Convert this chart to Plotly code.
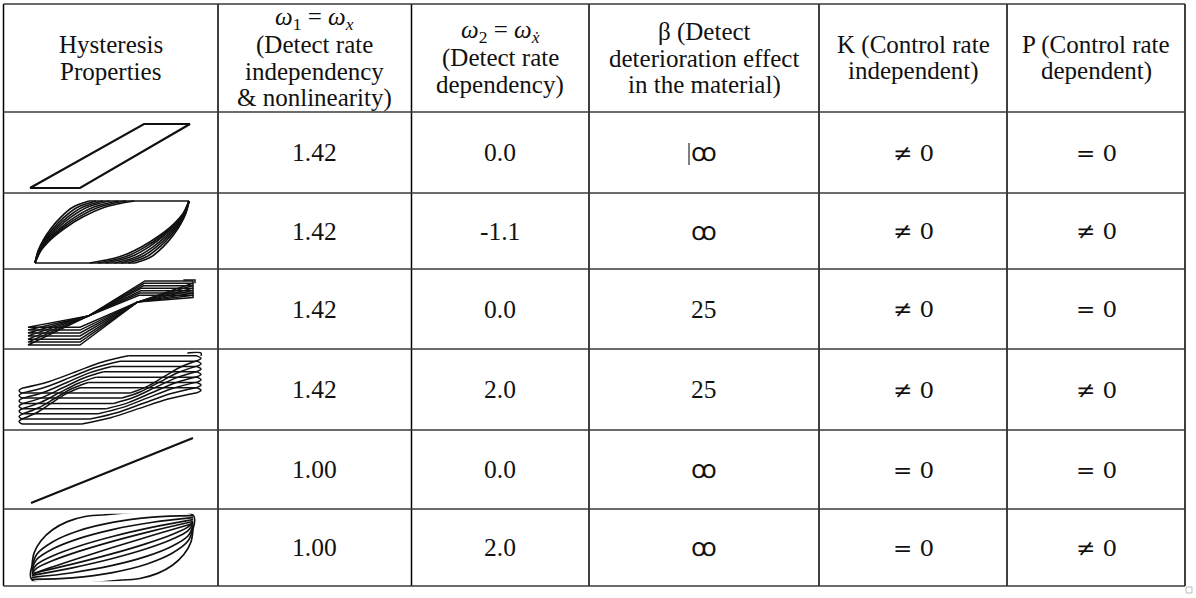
import plotly.graph_objects as go

# ---- table text ----
header_lines = [
    ["Hysteresis", "Properties"],
    ["<i>ω</i><sub>1</sub> = <i>ω</i><sub><i>x</i></sub>", "(Detect rate", "independency", "&amp; nonlinearity)"],
    ["<i>ω</i><sub>2</sub> = <i>ω</i><sub><i>x\u0307</i></sub>", "(Detect rate", "dependency)"],
    ["β (Detect", "deterioration effect", "in the material)"],
    ["K (Control rate", "independent)"],
    ["P (Control rate", "dependent)"],
]
omega1 = ["1.42", "1.42", "1.42", "1.42", "1.00", "1.00"]
omega2 = ["0.0", "-1.1", "0.0", "2.0", "0.0", "2.0"]
beta = ["ꝏ", "ꝏ", "25", "25", "ꝏ", "ꝏ"]
k_ctrl = ["≠ 0", "≠ 0", "≠ 0", "≠ 0", "= 0", "= 0"]
p_ctrl = ["= 0", "≠ 0", "= 0", "≠ 0", "= 0", "≠ 0"]

# ---- hysteresis sketches (normalised displacement / force, -1..1) ----
# row 1: bilinear loop
loop1_x = [-1, -0.375, 1, 0.425, -1]
loop1_y = [-1, -1, 1, 1, -1]

# row 2: loading branches reach the top edge at these displacements
loop2_top_end = [-0.30, -0.21, -0.12, -0.03, 0.08, 0.18, 0.29]
branch_u = [0, 0.06, 0.16, 0.3, 0.48, 0.7, 1.0]
branch_v = [0, 0.2, 0.38, 0.56, 0.74, 0.9, 1.0]

# row 3: pinched, drifting loops
loop3_top_y = [0.97, 0.90, 0.82, 0.75, 0.67, 0.60, 0.53]
loop3_top_x0 = [0.40, 0.39, 0.38, 0.36, 0.35, 0.34, 0.33]
loop3_bot_y = [-0.45, -0.54, -0.63, -0.72, -0.82, -0.91, -1.0]
loop3_pinch_a = [-0.28, -0.11]
loop3_pinch_b = [0.31, 0.32]

# row 4: degrading loops with rounded ends
loop4_top_y = [0.92, 0.77, 0.62, 0.47, 0.32, 0.17, 0.02]
loop4_top_x0 = [0.20, 0.11, 0.02, -0.07, -0.15, -0.24, -0.33]
loop4_bot_y = [-0.13, -0.27, -0.42, -0.57, -0.71, -0.86, -1.0]
loop4_bot_x1 = [0.22, 0.13, 0.04, -0.04, -0.13, -0.22, -0.31]
s_u = [0, 0.25, 0.5, 0.75, 1]
s_v = [0, 0.2, 0.5, 0.8, 1]

# row 5: linear
loop5_x = [-1, 1]
loop5_y = [-1, 1]

# row 6: rate dependent family, upper branches (lower ones are point-symmetric)
loop6_left_y = [-0.62, -0.68, -0.74, -0.80, -0.86]
loop6_right_y = [0.98, 0.92, 0.86, 0.80, 0.74]
loop6_bend = [1.0, 0.73, 0.47, 0.32, 0.1]
arc_u = [0, 0.03, 0.13, 0.29, 0.5, 0.75, 1.0]
arc_v = [0, 0.26, 0.5, 0.71, 0.87, 0.97, 1.0]

W, H = 1196, 598
col_edges = [3.5, 218, 411.5, 589, 819, 1007, 1185]
row_edges = [4, 112, 193, 269, 349, 430, 509, 586]
icon_boxes = [(30, 190, 124, 188), (35, 189, 201, 263), (28, 195, 280, 345),
              (19, 201, 353, 424), (31, 193, 438, 503), (32, 193, 515, 580)]

SERIF = "Liberation Serif"
INK = "#111111"


def add_seg(xs, ys, px, py):
    xs.extend(px + [None])
    ys.extend(py + [None])


def branch(x0, y0, x1, y1, u, v):
    return [x0 + (x1 - x0) * a for a in u], [y0 + (y1 - y0) * b for b in v]


icons = []

# row 1
icons.append((loop1_x, loop1_y, "linear", 2.2))

# row 2
xs, ys = [], []
for t in loop2_top_end:
    bx, by = branch(-1, -1, t, 1, branch_u, branch_v)
    add_seg(xs, ys, bx, by)
    add_seg(xs, ys, [-v for v in bx], [-v for v in by])
add_seg(xs, ys, [loop2_top_end[0], 1], [1, 1])
add_seg(xs, ys, [-1, -loop2_top_end[0]], [-1, -1])
icons.append((xs, ys, "spline", 1.7))

# row 3
xs, ys = [], []
for yt, x0, yb in zip(loop3_top_y, loop3_top_x0, loop3_bot_y):
    add_seg(xs, ys,
            [0.976, x0, loop3_pinch_a[0], -1, -0.377, loop3_pinch_b[0], 0.976, 0.976],
            [yt, yt, loop3_pinch_a[1], yb, yb, loop3_pinch_b[1], yt - 0.07, yt])
add_seg(xs, ys, [0.86, 1.0, 1.0], [1.0, 1.0, 0.9])
icons.append((xs, ys, "linear", 1.5))

# row 4
xs, ys = [], []
for yt, x0, yb, x1 in zip(loop4_top_y, loop4_top_x0, loop4_bot_y, loop4_bot_x1):
    add_seg(xs, ys, [x0, 0.956], [yt, yt])
    add_seg(xs, ys, [0.956, 1.0, 0.956], [yt, yt - 0.07, yt - 0.14])
    bx, by = branch(0.956, yt - 0.14, x1, yb, s_u, s_v)
    add_seg(xs, ys, bx, by)
    add_seg(xs, ys, [x1, -0.967], [yb, yb])
    add_seg(xs, ys, [-0.967, -1.0, -0.967], [yb, yb + 0.07, yb + 0.14])
    bx, by = branch(-0.967, yb + 0.14, x0, yt, s_u, s_v)
    add_seg(xs, ys, bx, by)
add_seg(xs, ys, [0.85, 1.0, 1.0], [1.0, 1.0, 0.92])
icons.append((xs, ys, "spline", 1.5))

# row 5
icons.append((loop5_x, loop5_y, "linear", 2.2))

# row 6
xs, ys = [], []
bx, by = branch(-1, -0.57, -0.12, 1, arc_u, arc_v)
add_seg(xs, ys, bx, by)
add_seg(xs, ys, [-v for v in bx], [-v for v in by])
add_seg(xs, ys, [-0.12, 1, 1], [1, 1, 0.57])
add_seg(xs, ys, [0.12, -1, -1], [-1, -1, -0.57])
for j, (yl, yr, w) in enumerate(zip(loop6_left_y, loop6_right_y, loop6_bend)):
    mix = [(1 - w) * a + w * b for a, b in zip(arc_u, arc_v)]
    bx, by = branch(-1, yl, 1, yr, arc_u, mix)
    add_seg(xs, ys, bx, by)
    if j < len(loop6_bend) - 1:
        add_seg(xs, ys, [-v for v in bx], [-v for v in by])
icons.append((xs, ys, "spline", 1.7))

fig = go.Figure()

# invisible full-page axis used for grid and text
fig.add_trace(go.Scatter(x=[0, W], y=[0, H], mode="markers", marker=dict(opacity=0),
                         hoverinfo="skip", showlegend=False))

layout_axes = {}
pad = 0.04
for i, ((x0, x1, y0, y1), (xs, ys, shape, lw)) in enumerate(zip(icon_boxes, icons)):
    n = i + 2
    bw, bh = x1 - x0, y1 - y0
    fig.add_trace(go.Scatter(x=xs, y=ys, mode="lines", line=dict(color=INK, width=lw, shape=shape),
                             xaxis=f"x{n}", yaxis=f"y{n}", hoverinfo="skip", showlegend=False,
                             connectgaps=False))
    layout_axes[f"xaxis{n}"] = dict(domain=[(x0 - pad / 2 * bw) / W, (x1 + pad / 2 * bw) / W],
                                    range=[-1 - pad, 1 + pad], visible=False, anchor=f"y{n}",
                                    fixedrange=True)
    layout_axes[f"yaxis{n}"] = dict(domain=[1 - (y1 + pad / 2 * bh) / H, 1 - (y0 - pad / 2 * bh) / H],
                                    range=[-1 - pad, 1 + pad], visible=False, anchor=f"x{n}",
                                    fixedrange=True)

shapes = []
for x in col_edges:
    shapes.append(dict(type="line", xref="x", yref="y", x0=x, x1=x, y0=row_edges[0], y1=row_edges[-1],
                       line=dict(color="#000000", width=1.5)))
for y in row_edges:
    shapes.append(dict(type="line", xref="x", yref="y", x0=col_edges[0], x1=col_edges[-1], y0=y, y1=y,
                       line=dict(color="#3a3a3a", width=1.5)))
# text cursor left in the first beta cell and the small corner handle
shapes.append(dict(type="line", xref="x", yref="y", x0=689, x1=689, y0=143, y1=165,
                   line=dict(color="#000000", width=1)))
shapes.append(dict(type="rect", xref="x", yref="y", x0=1186, x1=1192, y0=587, y1=593,
                   line=dict(color="#bbbbbb", width=1)))

annotations = []
col_mid = [(a + b) / 2 for a, b in zip(col_edges[:-1], col_edges[1:])]
head_mid = (row_edges[0] + row_edges[1]) / 2
for cx, lines in zip(col_mid, header_lines):
    n = len(lines)
    for j, txt in enumerate(lines):
        annotations.append(dict(x=cx, y=head_mid + (j - (n - 1) / 2) * 26.5, xref="x", yref="y",
                                text=txt, showarrow=False,
                                font=dict(family=SERIF, size=25, color=INK)))

for r in range(6):
    cy = (row_edges[r + 1] + row_edges[r + 2]) / 2
    for c, col in enumerate([omega1, omega2, beta]):
        annotations.append(dict(x=col_mid[c + 1], y=cy, xref="x", yref="y", text=col[r], showarrow=False,
                                font=dict(family=SERIF, size=25.5, color=INK)))
    for c, col in enumerate([k_ctrl, p_ctrl]):
        annotations.append(dict(x=col_mid[c + 4], y=cy, xref="x", yref="y", text=col[r], showarrow=False,
                                font=dict(family="DejaVu Serif", size=23, color=INK)))

fig.update_layout(
    width=W, height=H,
    margin=dict(l=0, r=0, t=0, b=0),
    paper_bgcolor="white", plot_bgcolor="white",
    xaxis=dict(range=[0, W], visible=False, domain=[0, 1], fixedrange=True),
    yaxis=dict(range=[H, 0], visible=False, domain=[0, 1], fixedrange=True),
    shapes=shapes,
    annotations=annotations,
    showlegend=False,
    **layout_axes,
)

fig.write_html("out.html", config={"displayModeBar": False},
               post_script="document.body.style.margin='0';")
